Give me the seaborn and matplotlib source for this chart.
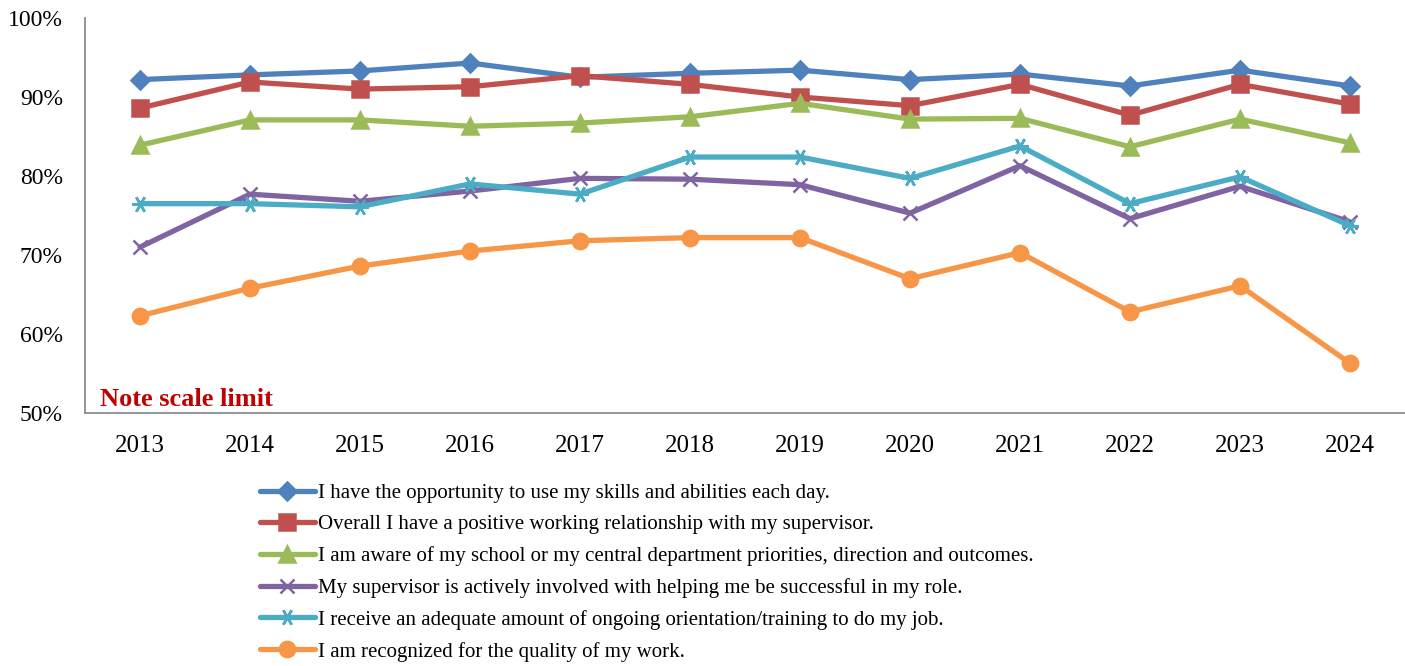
import matplotlib
matplotlib.use("Agg")
import matplotlib.pyplot as plt
import pandas as pd
import seaborn as sns

# --- data ---
years = [2013, 2014, 2015, 2016, 2017, 2018, 2019, 2020, 2021, 2022, 2023, 2024]

skills = [92.2, 92.8, 93.3, 94.3, 92.5, 93.0, 93.4, 92.2, 92.9, 91.4, 93.4, 91.4]
supervisor_rel = [88.6, 91.9, 91.0, 91.3, 92.7, 91.6, 90.0, 88.9, 91.6, 87.7, 91.6, 89.1]
aware = [83.9, 87.1, 87.1, 86.3, 86.7, 87.5, 89.2, 87.2, 87.3, 83.7, 87.2, 84.2]
supervisor_help = [71.0, 77.7, 76.8, 78.1, 79.7, 79.6, 78.9, 75.3, 81.3, 74.6, 78.7, 74.2]
training = [76.5, 76.5, 76.1, 79.0, 77.7, 82.4, 82.4, 79.7, 83.8, 76.5, 79.9, 73.7]
recognized = [62.3, 65.8, 68.6, 70.5, 71.8, 72.2, 72.2, 67.0, 70.3, 62.8, 66.1, 56.3]

labels = [
    "I have the opportunity to use my skills and abilities each day.",
    "Overall I have a positive working relationship with my supervisor.",
    "I am aware of my school or my central department priorities, direction and outcomes.",
    "My supervisor is actively involved with helping me be successful in my role.",
    "I receive an adequate amount of ongoing orientation/training to do my job.",
    "I am recognized for the quality of my work.",
]
series = [skills, supervisor_rel, aware, supervisor_help, training, recognized]
colors = ["#4F81BD", "#C0504D", "#9BBB59", "#8064A2", "#4BACC6", "#F79646"]
markers = ["D", "s", "^", "x", (6, 2, 30), "o"]
msizes = [9, 11, 11, 10, 12, 11]

sns.set_theme(style="white")
plt.rcParams["font.family"] = ["Liberation Serif", "DejaVu Serif"]
plt.rcParams["text.color"] = "black"
plt.rcParams["xtick.color"] = "black"
plt.rcParams["ytick.color"] = "black"

fig = plt.figure(figsize=(14.05, 6.66), dpi=100)
ax = fig.add_axes([85 / 1405, 1 - 413 / 666, 1 - 85 / 1405, (413 - 18) / 666])

for vals, lab, c, m, ms in zip(series, labels, colors, markers, msizes):
    df = pd.DataFrame({"year": years, "value": vals})
    sns.lineplot(data=df, x="year", y="value", ax=ax, color=c, marker=m,
                 markersize=ms, linewidth=3.8, markeredgecolor=c,
                 markeredgewidth=1.8, label=lab)

ax.set_xlim(2012.5, 2024.5)
ax.set_ylim(50, 100)
ax.set_xticks(years)
ax.set_xticklabels([str(y) for y in years], fontsize=18)
ax.set_yticks(range(50, 101, 10))
ax.set_yticklabels([f"{v}%" for v in range(50, 101, 10)], fontsize=17)
ax.set_xlabel("")
ax.set_ylabel("")
ax.tick_params(axis="y", length=0, pad=16)
ax.tick_params(axis="x", length=0, pad=16)
for s in ["top", "right"]:
    ax.spines[s].set_visible(False)
for s in ["left", "bottom"]:
    ax.spines[s].set_color("#8C8C8C")
    ax.spines[s].set_linewidth(1.3)

ax.text(2012.64, 50.3, "Note scale limit", color="#C00000", fontsize=19,
        fontweight="bold", ha="left", va="bottom")

handles, labs = ax.get_legend_handles_labels()
ax.get_legend().remove()
fig.legend(handles, labs, loc="upper left", bbox_to_anchor=(252 / 1405, 1 - 475 / 666),
           frameon=False, fontsize=15, handlelength=2.6, handletextpad=0.15,
           labelspacing=0.57, borderaxespad=0)

fig.savefig("out.png", dpi=100)
